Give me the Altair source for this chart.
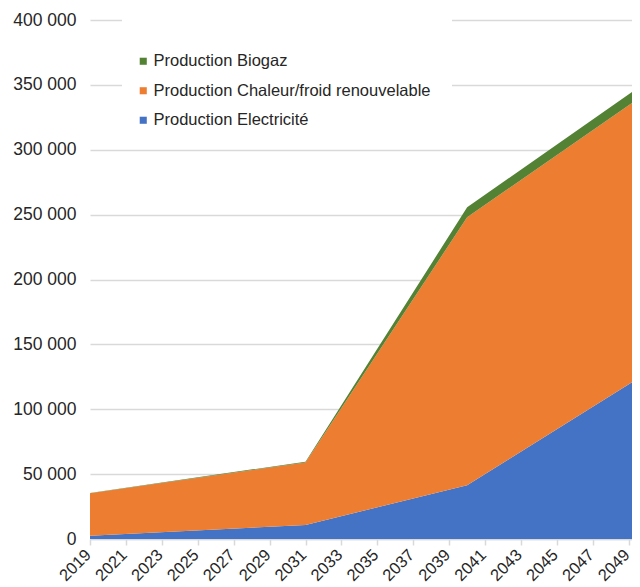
import altair as alt
import pandas as pd

years = [2019, 2031, 2040, 2050]
electricite = [2500, 10800, 41500, 127900]
chaleur = [32700, 48200, 206400, 216000]
biogaz = [300, 600, 7700, 8600]

series_names = ["Production Biogaz", "Production Chaleur/froid renouvelable", "Production Electricité"]
series_colors = ["#548235", "#ED7D31", "#4472C4"]
stack_rank = {"Production Electricité": 0, "Production Chaleur/froid renouvelable": 1, "Production Biogaz": 2}
tick_years = list(range(2019, 2050, 2))
y_ticks = list(range(0, 400001, 50000))

rows = []
for name, vals in [("Production Electricité", electricite),
                   ("Production Chaleur/froid renouvelable", chaleur),
                   ("Production Biogaz", biogaz)]:
    for yr, v in zip(years, vals):
        rows.append({"year": yr, "serie": name, "value": v, "rank": stack_rank[name]})
df = pd.DataFrame(rows)

areas = alt.Chart(df).mark_area(clip=True, opacity=1).encode(
    x=alt.X("year:Q",
            scale=alt.Scale(domain=[2019, 2049.18], nice=False, zero=False),
            axis=alt.Axis(values=tick_years, format="d", title=None, grid=False,
                          labelAngle=-45, labelAlign="right", labelBaseline="middle",
                          labelFontSize=16.5, labelColor="#262626", labelFont="Liberation Sans",
                          labelPadding=7, labelOffset=-2, domainColor="#d9d9d9", domainWidth=1.5,
                          tickColor="#d9d9d9", tickWidth=1.5,
                          tickSize=6, labelFlush=False, labelOverlap=False)),
    y=alt.Y("value:Q", stack="zero",
            scale=alt.Scale(domain=[0, 400000], nice=False),
            axis=alt.Axis(values=y_ticks, title=None, domain=False, ticks=False,
                          gridColor="#d9d9d9", gridWidth=1.5,
                          labelExpr="replace(format(datum.value, ',d'), ',', ' ')",
                          labelFontSize=17.5, labelColor="#262626", labelFont="Liberation Sans",
                          labelPadding=14)),
    color=alt.Color("serie:N",
                    scale=alt.Scale(domain=series_names, range=series_colors),
                    legend=alt.Legend(title=None, orient="none", legendX=45, legendY=33,
                                      symbolType="square", symbolSize=50, symbolStrokeWidth=0,
                                      labelFontSize=16.5, labelColor="#262626",
                                      labelFont="Liberation Sans", rowPadding=12.5,
                                      labelOffset=2, padding=0, labelLimit=0)),
    order=alt.Order("rank:Q"),
)

cover = alt.Chart(alt.Data(values=[{}])).mark_rect(color="white").encode(
    x=alt.value(32), x2=alt.value(362), y=alt.value(-8), y2=alt.value(120)
)

chart = alt.layer(cover, areas).properties(
    width=542, height=519,
    padding={"left": 82, "top": 12, "right": 0, "bottom": 48},
    autosize=alt.AutoSizeParams(type="none"),
).configure_view(stroke=None)

chart.save("out.html", embed_options={"renderer": "svg", "actions": False})
